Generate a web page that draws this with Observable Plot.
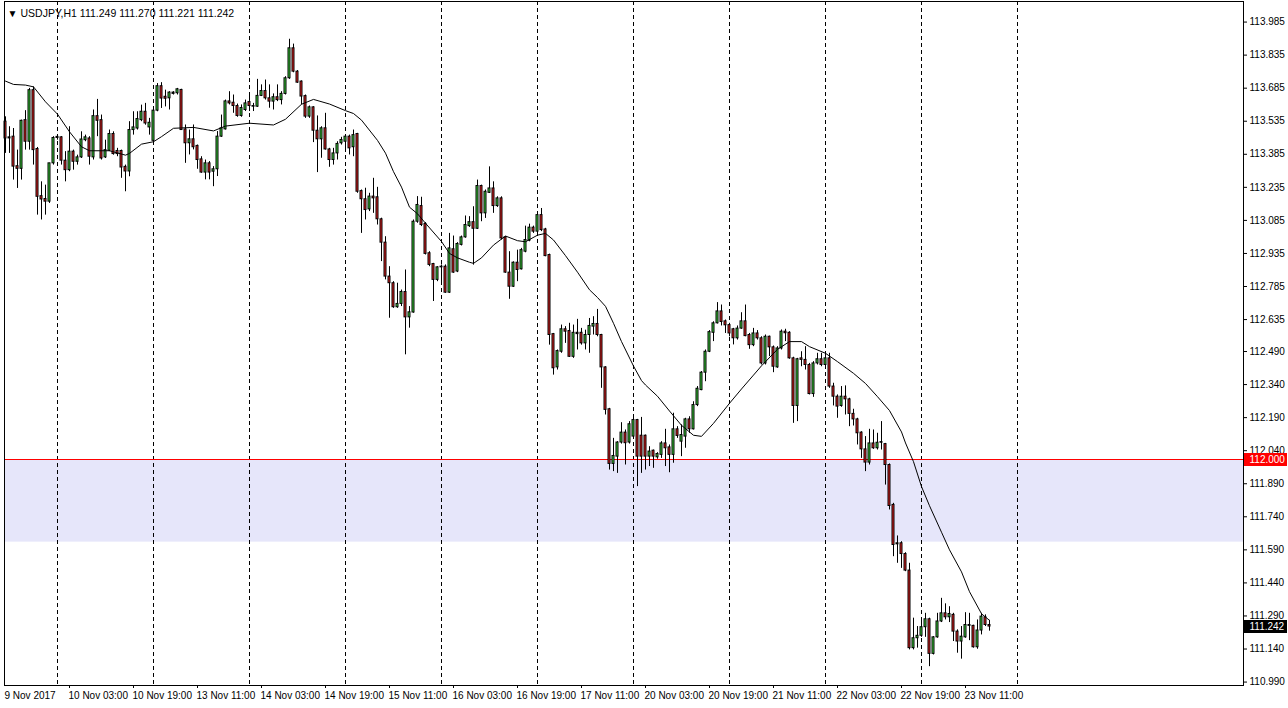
<!DOCTYPE html>
<html><head><meta charset="utf-8">
<script src="https://cdn.jsdelivr.net/npm/d3@7"></script>
<script src="https://cdn.jsdelivr.net/npm/@observablehq/plot@0.6"></script>
<style>
html,body{margin:0;padding:0;background:#fff;overflow:hidden;}
svg{display:block;}
</style></head><body>
<script>
// ---------- DATA (USDJPY H1, bar 0 = 9 Nov 2017 11:00) ----------
const symbol = "USDJPY,H1";
const open = [113.533,113.457,113.465,113.331,113.319,113.540,113.442,113.676,113.409,113.195,113.182,113.170,113.344,113.459,113.462,113.356,113.313,113.397,113.351,113.371,113.449,113.457,113.371,113.558,113.540,113.371,113.401,113.477,113.400,113.400,113.328,113.307,113.495,113.502,113.540,113.578,113.507,113.446,113.583,113.694,113.646,113.639,113.665,113.662,113.677,113.498,113.435,113.453,113.423,113.362,113.302,113.344,113.306,113.317,113.465,113.498,113.625,113.619,113.604,113.559,113.586,113.622,113.604,113.601,113.650,113.672,113.639,113.624,113.644,113.631,113.659,113.730,113.866,113.760,113.715,113.649,113.556,113.598,113.492,113.453,113.503,113.407,113.359,113.389,113.435,113.442,113.465,113.417,113.477,113.218,113.181,113.135,113.193,113.190,113.090,112.984,112.830,112.800,112.691,112.706,112.760,112.645,112.667,113.079,113.150,113.069,112.936,112.887,112.815,112.872,112.875,112.757,112.954,112.853,112.974,113.008,113.059,113.077,113.047,113.241,113.117,113.210,113.230,113.150,113.185,113.008,112.848,112.784,112.893,112.863,112.943,112.993,113.052,113.034,113.109,113.044,112.928,112.569,112.418,112.489,112.591,112.583,112.466,112.575,112.575,112.527,112.565,112.603,112.615,112.565,112.418,112.228,111.980,112.013,112.077,112.122,112.077,112.104,112.179,112.108,112.108,112.013,112.040,112.010,112.021,112.073,112.055,112.021,112.137,112.081,112.104,112.182,112.137,112.247,112.315,112.394,112.489,112.575,112.618,112.672,112.627,112.610,112.591,112.550,112.594,112.627,112.565,112.519,112.572,112.550,112.436,112.557,112.509,112.418,112.504,112.580,112.575,112.459,112.243,112.459,112.452,112.429,112.297,112.436,112.455,112.429,112.459,112.331,112.285,112.243,112.285,112.273,112.207,112.182,112.122,112.046,111.986,112.073,112.051,112.076,112.070,111.975,111.794,111.620,111.620,111.571,111.496,111.144,111.189,111.200,111.239,111.275,111.118,111.193,111.265,111.302,111.284,111.295,111.219,111.174,111.193,111.249,111.245,111.148,111.224,111.284,111.249];
const high = [113.555,113.510,113.502,113.404,113.540,113.583,113.684,113.691,113.416,113.260,113.245,113.344,113.465,113.470,113.465,113.397,113.510,113.404,113.381,113.487,113.472,113.465,113.586,113.634,113.563,113.449,113.495,113.487,113.412,113.404,113.336,113.533,113.578,113.578,113.608,113.616,113.548,113.586,113.706,113.710,113.676,113.669,113.669,113.684,113.680,113.518,113.495,113.518,113.427,113.374,113.359,113.352,113.329,113.488,113.563,113.631,113.669,113.654,113.613,113.609,113.631,113.662,113.616,113.725,113.700,113.722,113.700,113.659,113.700,113.669,113.737,113.907,113.885,113.765,113.718,113.654,113.604,113.601,113.559,113.510,113.571,113.412,113.412,113.442,113.462,113.472,113.472,113.495,113.480,113.223,113.231,113.208,113.276,113.235,113.095,113.011,112.875,112.807,112.800,112.769,112.860,112.694,113.087,113.193,113.190,113.075,112.943,112.890,112.875,112.883,112.883,113.026,113.014,112.984,113.014,113.105,113.102,113.147,113.268,113.245,113.223,113.328,113.260,113.192,113.192,113.011,112.943,112.897,112.950,112.958,113.059,113.068,113.059,113.114,113.139,113.049,112.932,112.572,112.497,112.610,112.603,112.618,112.610,112.636,112.595,112.587,112.640,112.648,112.681,112.568,112.421,112.232,112.096,112.081,112.167,112.134,112.172,112.187,112.182,112.191,112.111,112.058,112.043,112.031,112.081,112.137,112.066,112.210,112.149,112.157,112.187,112.194,112.262,112.331,112.399,112.497,112.585,112.625,112.712,112.701,112.633,112.618,112.595,112.606,112.666,112.701,112.572,112.595,112.585,112.557,112.565,112.560,112.515,112.512,112.588,112.591,112.580,112.464,112.459,112.489,112.512,112.436,112.444,112.482,112.482,112.482,112.482,112.346,112.293,112.331,112.334,112.278,112.228,112.187,112.126,112.104,112.137,112.134,112.119,112.172,112.073,111.980,111.801,111.653,111.627,111.577,111.529,111.280,111.242,111.265,111.302,111.280,111.196,111.302,111.370,111.345,111.332,111.302,111.227,111.242,111.305,111.302,111.248,111.272,111.302,111.295,111.270];
const low = [113.389,113.389,113.268,113.230,113.268,113.404,113.404,113.336,113.109,113.087,113.109,113.162,113.336,113.449,113.336,113.260,113.306,113.313,113.336,113.366,113.442,113.336,113.359,113.465,113.359,113.366,113.397,113.381,113.374,113.276,113.215,113.283,113.472,113.495,113.533,113.517,113.472,113.442,113.578,113.593,113.600,113.586,113.654,113.654,113.495,113.344,113.382,113.405,113.317,113.299,113.269,113.269,113.238,113.284,113.462,113.495,113.609,113.571,113.553,113.553,113.579,113.579,113.579,113.598,113.647,113.631,113.594,113.586,113.624,113.609,113.654,113.725,113.755,113.707,113.609,113.548,113.548,113.438,113.302,113.367,113.404,113.326,113.336,113.359,113.427,113.397,113.382,113.374,113.208,113.026,113.087,113.125,113.117,113.064,112.898,112.815,112.641,112.686,112.686,112.694,112.475,112.596,112.664,113.072,113.057,112.928,112.875,112.717,112.807,112.792,112.754,112.754,112.845,112.848,112.969,113.004,113.053,112.882,113.044,113.079,113.094,113.207,113.117,113.144,112.996,112.845,112.727,112.781,112.807,112.860,112.938,112.988,113.026,113.029,113.034,112.920,112.519,112.383,112.406,112.482,112.527,112.463,112.459,112.497,112.519,112.497,112.482,112.565,112.557,112.323,112.202,111.952,111.945,111.937,112.070,111.975,112.070,112.096,111.877,111.937,111.952,111.968,111.960,112.001,112.005,111.968,111.940,111.983,112.096,112.013,112.051,112.119,112.134,112.240,112.312,112.353,112.485,112.535,112.615,112.606,112.572,112.557,112.520,112.542,112.591,112.557,112.500,112.512,112.542,112.429,112.429,112.467,112.394,112.414,112.497,112.535,112.455,112.164,112.172,112.421,112.406,112.293,112.282,112.429,112.421,112.424,112.323,112.243,112.187,112.237,112.202,112.149,112.152,112.066,112.005,111.945,111.975,112.046,112.043,112.043,111.884,111.771,111.559,111.529,111.506,111.491,111.136,111.136,111.144,111.193,111.193,111.060,111.113,111.189,111.260,111.272,111.260,111.174,111.121,111.094,111.189,111.178,111.144,111.139,111.204,111.242,111.221];
const close = [113.457,113.462,113.329,113.319,113.537,113.442,113.676,113.404,113.192,113.180,113.170,113.344,113.459,113.464,113.356,113.313,113.397,113.351,113.371,113.452,113.462,113.374,113.558,113.537,113.366,113.404,113.477,113.386,113.386,113.325,113.307,113.495,113.507,113.545,113.578,113.525,113.528,113.583,113.694,113.638,113.637,113.665,113.659,113.680,113.495,113.435,113.453,113.417,113.359,113.302,113.344,113.302,113.317,113.465,113.503,113.625,113.616,113.604,113.559,113.595,113.616,113.604,113.601,113.650,113.672,113.639,113.624,113.644,113.631,113.659,113.730,113.866,113.760,113.710,113.647,113.556,113.598,113.492,113.453,113.503,113.407,113.359,113.389,113.432,113.450,113.465,113.412,113.472,113.215,113.181,113.132,113.193,113.185,113.090,112.984,112.830,112.800,112.691,112.706,112.760,112.645,112.668,113.079,113.155,113.064,112.933,112.883,112.815,112.872,112.875,112.757,112.958,112.848,112.978,113.008,113.064,113.077,113.047,113.241,113.117,113.215,113.230,113.150,113.185,113.003,112.848,112.784,112.893,112.860,112.950,112.996,113.052,113.034,113.109,113.041,112.923,112.565,112.414,112.492,112.591,112.580,112.466,112.575,112.569,112.527,112.565,112.606,112.615,112.565,112.418,112.225,111.980,112.016,112.077,112.122,112.074,112.160,112.179,112.013,112.013,112.013,112.036,112.013,112.025,112.073,112.051,112.021,112.137,112.107,112.111,112.182,112.137,112.247,112.321,112.394,112.489,112.578,112.618,112.672,112.624,112.609,112.572,112.550,112.594,112.627,112.560,112.519,112.572,112.550,112.436,112.557,112.509,112.421,112.504,112.580,112.573,112.459,112.243,112.455,112.452,112.429,112.297,112.436,112.455,112.429,112.459,112.331,112.285,112.240,112.285,112.273,112.207,112.182,112.119,112.046,111.986,112.073,112.051,112.076,112.079,111.975,111.789,111.612,111.615,111.571,111.496,111.144,111.189,111.200,111.239,111.275,111.118,111.193,111.265,111.302,111.284,111.299,111.219,111.174,111.196,111.249,111.245,111.148,111.224,111.287,111.249,111.242];

// moving average (bar index, price)
const maBars   = [0,2,5,7,10,13,16,19,21,26,30,31,34,37,39,42,47,52,55,61,67,70,74,77,81,85,87,89,93,95,97,99,101,103,105,109,111,113,116,117,119,122,125,128,130,133,135,137,140,143,146,148,150,152,154,157,159,160,163,166,169,172,174,177,181,184,187,189,193,196,199,201,205,208,212,215,218,221,224,225,227,229,231,234,236,239,241,244,246];
const maValues = [113.717,113.702,113.699,113.691,113.623,113.567,113.487,113.419,113.401,113.401,113.381,113.389,113.431,113.442,113.465,113.503,113.507,113.491,113.513,113.526,113.518,113.544,113.612,113.634,113.613,113.583,113.570,113.540,113.448,113.390,113.306,113.236,113.145,113.115,113.072,112.989,112.935,112.915,112.895,112.890,112.915,112.973,113.014,112.993,112.988,113.018,113.026,112.996,112.925,112.850,112.770,112.735,112.695,112.618,112.535,112.424,112.358,112.338,112.287,112.220,112.155,112.110,112.105,112.164,112.255,112.320,112.383,112.425,112.500,112.535,112.535,112.512,112.482,112.444,112.391,112.345,112.285,112.222,112.125,112.075,111.990,111.877,111.790,111.670,111.590,111.490,111.400,111.300,111.270];

const levelPrice = 112.000;          // horizontal line
const zoneLow = 111.625, zoneHigh = 112.000;  // shaded support zone
const daySeparatorBars = [13,37,61,85,109,133,157,181,205,229,253];
const timeLabelBars = [0,16,32,48,64,80,96,112,128,144,160,176,192,208,224,240];
const timeLabels = ["9 Nov 2017","10 Nov 03:00","10 Nov 19:00","13 Nov 11:00","14 Nov 03:00","14 Nov 19:00","15 Nov 11:00","16 Nov 03:00","16 Nov 19:00","17 Nov 11:00","20 Nov 03:00","20 Nov 19:00","21 Nov 11:00","22 Nov 03:00","22 Nov 19:00","23 Nov 11:00"];
const yTicks = [113.985,113.835,113.685,113.535,113.385,113.235,113.085,112.935,112.785,112.635,112.490,112.340,112.190,112.040,111.890,111.740,111.590,111.440,111.290,111.140,110.990];

// ---------- LAYOUT ----------
const W = 1288, H = 708;
const mL = 4, mR = 45, mT = 1, mB = 23;
const barPx = 4, firstBarPx = 5;
const xDomain = [(mL - firstBarPx) / barPx, (W - mR - firstBarPx) / barPx];
const pxPerYen = 220.37, refY = 459;
const yDomain = [levelPrice - (H - mB - refY) / pxPerYen, levelPrice + (refY - mT) / pxPerYen];
const bull = "#3cd83c", bear = "#ea2020";

const bars = open.map((o, i) => ({i, o, h: high[i], l: low[i], c: close[i]}));
const ma = maBars.map((b, k) => ({i: b, v: maValues[k]}));
const last = bars[bars.length - 1];
const titleText = `${symbol} ${last.o.toFixed(3)} ${last.h.toFixed(3)} ${last.l.toFixed(3)} ${last.c.toFixed(3)}`;
const tl = timeLabelBars.map((b, k) => ({b, t: timeLabels[k]}));
const plotW = W - mL - mR, plotH = H - mT - mB;

const chart = Plot.plot({
  width: W, height: H,
  marginLeft: mL, marginRight: mR, marginTop: mT, marginBottom: mB,
  x: {domain: xDomain, axis: null},
  y: {domain: yDomain, axis: null},
  style: {background: "white", fontFamily: "'Liberation Sans', Arial, sans-serif", fontSize: "10px", color: "black"},
  marks: [
    Plot.rect([{lo: zoneLow, hi: zoneHigh}], {y1: "lo", y2: "hi", fill: "#e6e6fa"}),
    Plot.ruleX(daySeparatorBars, {x: d => d, stroke: "black", strokeDasharray: "4,3"}),
    Plot.ruleY([levelPrice], {y: d => d, stroke: "#ff0000"}),
    // wicks
    Plot.ruleX(bars, {x: "i", y1: "l", y2: "h", stroke: "black"}),
    // candle bodies (black outline + coloured core)
    Plot.rect(bars, {x1: d => d.i - 0.375, x2: d => d.i + 0.375, y1: "o", y2: "c", fill: "black", insetTop: -0.5, insetBottom: -0.5}),
    Plot.rect(bars, {filter: d => Math.abs(d.c - d.o) * pxPerYen > 1.5,
      x1: d => d.i - 0.375, x2: d => d.i + 0.375, y1: "o", y2: "c",
      fill: d => d.c > d.o ? bull : bear, insetLeft: 1, insetRight: 1, insetTop: 0.5, insetBottom: 0.5}),
    // moving average
    Plot.line(ma, {x: "i", y: "v", stroke: "black", strokeWidth: 1}),
    Plot.frame({stroke: "black"}),
    // right price scale
    Plot.ruleY(yTicks, {y: d => d, insetLeft: plotW, insetRight: -4, stroke: "black"}),
    Plot.text(yTicks, {y: d => d, text: d => d.toFixed(3), frameAnchor: "right", textAnchor: "start", dx: 6, fill: "black"}),
    Plot.ruleY([levelPrice], {y: d => d, insetLeft: plotW + 1, insetRight: -(mR - 1), stroke: "#ff0000", strokeWidth: 13}),
    Plot.text([levelPrice], {y: d => d, text: d => d.toFixed(3), frameAnchor: "right", textAnchor: "start", dx: 6, fill: "white"}),
    Plot.ruleY([last.c], {y: d => d, insetLeft: plotW + 1, insetRight: -(mR - 1), stroke: "black", strokeWidth: 13}),
    Plot.text([last.c], {y: d => d, text: d => d.toFixed(3), frameAnchor: "right", textAnchor: "start", dx: 6, fill: "white"}),
    // time scale
    Plot.ruleX(timeLabelBars.slice(1), {x: d => d, insetTop: plotH, insetBottom: -3, stroke: "black"}),
    Plot.text(tl, {x: "b", text: "t", frameAnchor: "bottom", textAnchor: "start", lineAnchor: "middle", dy: 10, dx: -1, fill: "black"}),
    // title
    Plot.text(["\u25BC"], {text: d => d, frameAnchor: "top-left", dx: 8, dy: 12, fontSize: 10, textAnchor: "middle", lineAnchor: "middle", fill: "black"}),
    Plot.text([titleText], {text: d => d, frameAnchor: "top-left", dx: 16, dy: 12, textAnchor: "start", lineAnchor: "middle", fill: "black", fontSize: 10.5})
  ]
});
document.body.appendChild(chart);
</script>
</body></html>
